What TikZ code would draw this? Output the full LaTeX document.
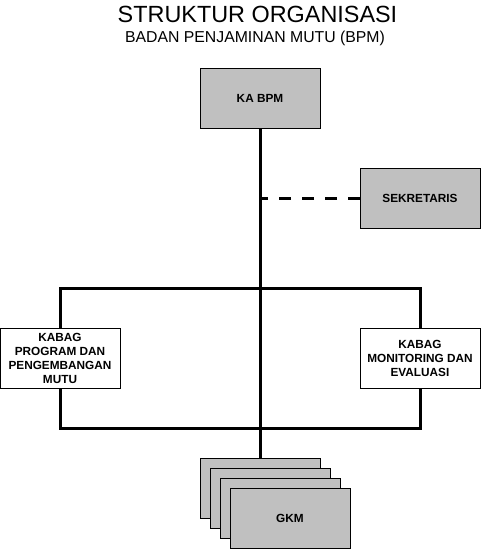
\documentclass[tikz,border=0pt]{standalone}
\usepackage{fontspec}
\setmainfont{Liberation Sans}
\definecolor{boxgray}{RGB}{192,192,192}
\begin{document}
\begin{tikzpicture}[x=1pt,y=-1pt,
  orgbox/.style={draw=black,line width=1pt,minimum width=120pt,minimum height=60pt,inner sep=1pt,outer sep=0pt,align=center,font=\bfseries\fontsize{11.8}{14}\selectfont},
  graybox/.style={orgbox,fill=boxgray},
  whitebox/.style={orgbox,fill=white},
  link/.style={line width=3pt,draw=black}]
\useasboundingbox (0,0) rectangle (481,549);
\node (title) at (257.5,14) {\fontsize{23.4}{25}\selectfont STRUKTUR ORGANISASI};
\node (subtitle) at (255,38) {\fontsize{15.8}{18}\selectfont BADAN PENJAMINAN MUTU (BPM)};
\coordinate (tl) at (60,288);
\coordinate (br) at (420,428);
\draw[link] (tl) rectangle (br);
\node[graybox] (ka) at (260,98) {KA BPM};
\node[graybox] (sek) at (420,198) {SEKRETARIS};
\node[graybox] (g1) at (260,488) {};
\node[graybox] (g2) at (270,498) {};
\node[graybox] (g3) at (280,508) {};
\node[graybox] (g4) at (290,518) {GKM};
\draw[link] (ka.south) -- (g1.north);
\draw[link,dash pattern=on 12pt off 11pt] (sek.west) -- (sek.west -| ka.south);
\node[whitebox] (kp) at (60,358) {KABAG\\PROGRAM DAN\\PENGEMBANGAN\\MUTU};
\node[whitebox] (km) at (420,358) {KABAG\\MONITORING DAN\\EVALUASI};
\end{tikzpicture}
\end{document}
